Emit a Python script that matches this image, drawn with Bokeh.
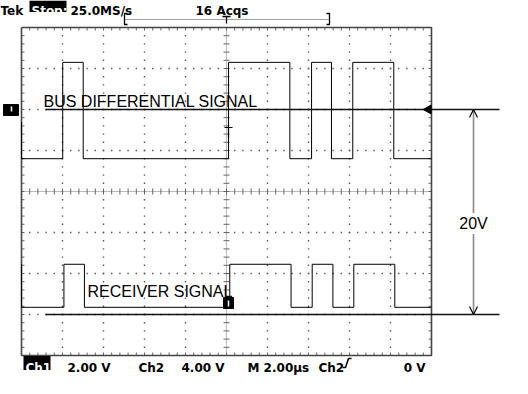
import numpy as np
from bokeh.plotting import figure
from bokeh.models import Range1d, Label
from bokeh.core.properties import value
from bokeh.embed import file_html
from bokeh.resources import INLINE

# ---------------- data ----------------
us_per_div = 2.0          # M 2.00 µs
h_divs = 10
v_divs = 8
ch1_v_per_div = 2.0       # Ch1 2.00 V
ch2_v_per_div = 4.0       # Ch2 4.00 V
ch1_offset_div = 2.0      # Ch1 ground level, divisions above centre
ch2_offset_div = -3.0     # Ch2 ground level, divisions above centre

bus_start_v = -0.6
bus_low_v = -2.4
bus_high_v = 2.3
bus_rise_us = [-7.99, 0.10, 4.15, 6.16]
bus_fall_us = [-6.99, 3.09, 5.12, 8.16]

rx_start_v = 4.9
rx_low_v = 0.7
rx_high_v = 4.9
rx_rise_us = [-7.93, 0.16, 4.18, 6.21]
rx_fall_us = [-6.93, 3.15, 5.19, 8.21]

trace_labels = ["BUS DIFFERENTIAL SIGNAL", "RECEIVER SIGNAL"]
header_texts = ["Tek", "Stop:", "25.0MS/s", "16 Acqs"]
footer_texts = ["Ch1", "2.00 V", "Ch2", "4.00 V", "M 2.00\u00b5s", "Ch2", "0 V"]

# ---------------- geometry helpers (reference pixel -> data) ----------------
PX_T0, PX_PER_US = 226.0, 20.5
PY_D0, PY_PER_DIV = 191.0, 41.0


def X(px):
    return (px - PX_T0) / PX_PER_US


def Y(py):
    return (PY_D0 - py) / PY_PER_DIV


def dx(n):
    return n / PX_PER_US


def dy(n):
    return n / PY_PER_DIV


half_t = us_per_div * h_divs / 2
half_d = v_divs / 2

p = figure(width=512, height=378, x_range=Range1d(X(0), X(512)),
           y_range=Range1d(Y(378), Y(0)), x_axis_type=None, y_axis_type=None,
           toolbar_location=None, output_backend="svg", min_border=0,
           outline_line_color=None, background_fill_color="white",
           border_fill_color="white")
p.grid.visible = False

GRID = "#555555"
# ---------------- graticule dots ----------------
gx, gy = [], []
for k in range(1, h_divs):
    t = -half_t + k * us_per_div
    if abs(t) < 1e-9:
        continue
    for j in range(1, v_divs * 5):
        gx.append(t)
        gy.append(-half_d + j * 0.2)
for k in range(1, v_divs):
    d = -half_d + k
    if abs(d) < 1e-9:
        continue
    for j in range(1, h_divs * 5):
        gx.append(-half_t + j * us_per_div / 5)
        gy.append(d)
p.scatter(gx, gy, marker="square", size=1.4, fill_color=GRID, line_color=None)

# centre cross
p.segment(x0=[-half_t, 0], y0=[0, -half_d], x1=[half_t, 0], y1=[0, half_d],
          line_color="#777777", line_width=1, line_dash="1 1")
tx0, ty0, tx1, ty1 = [], [], [], []
for j in range(1, h_divs * 5):
    t = -half_t + j * us_per_div / 5
    tx0 += [t]; ty0 += [-dy(3)]; tx1 += [t]; ty1 += [dy(3)]
    # top & bottom border ticks
    tx0 += [t, t]; ty0 += [half_d, -half_d]
    tx1 += [t, t]; ty1 += [half_d - dy(3), -half_d + dy(3)]
for j in range(1, v_divs * 5):
    d = -half_d + j * 0.2
    tx0 += [-dx(3)]; ty0 += [d]; tx1 += [dx(3)]; ty1 += [d]
    tx0 += [-half_t, half_t]; ty0 += [d, d]
    tx1 += [-half_t + dx(3), half_t - dx(3)]; ty1 += [d, d]
p.segment(x0=tx0, y0=ty0, x1=tx1, y1=ty1, line_color="#666666", line_width=1)

# border
p.line([-half_t, half_t, half_t, -half_t, -half_t],
       [half_d, half_d, -half_d, -half_d, half_d],
       line_color="#444444", line_width=1.6)


# ---------------- traces ----------------
def step_trace(start_v, low_v, high_v, rises, falls, off, vpd):
    t = [-half_t, -half_t]
    v = [start_v, low_v]
    for r, f in zip(rises, falls):
        t += [r, r, f, f]
        v += [low_v, high_v, high_v, low_v]
    t.append(half_t)
    v.append(low_v)
    return t, [off + vv / vpd for vv in v]


bt, bd = step_trace(bus_start_v, bus_low_v, bus_high_v, bus_rise_us, bus_fall_us,
                    ch1_offset_div, ch1_v_per_div)
rt, rd = step_trace(rx_start_v, rx_low_v, rx_high_v, rx_rise_us, rx_fall_us,
                    ch2_offset_div, ch2_v_per_div)
p.line(bt, bd, line_color="black", line_width=1.0)
p.line(rt, rd, line_color="black", line_width=1.0)

# ---------------- reference lines & dimension ----------------
p.segment(x0=[X(45), X(45)], y0=[ch1_offset_div, ch2_offset_div],
          x1=[X(499), X(499)], y1=[ch1_offset_div, ch2_offset_div],
          line_color="#111111", line_width=1.3)
xa = X(473)
p.segment(x0=[xa], y0=[ch2_offset_div], x1=[xa], y1=[ch1_offset_div],
          line_color="#888888", line_width=1.6)
p.multi_line(xs=[[xa - dx(4), xa, xa + dx(4)], [xa - dx(4), xa, xa + dx(4)]],
             ys=[[ch1_offset_div - dy(8), ch1_offset_div, ch1_offset_div - dy(8)],
                 [ch2_offset_div + dy(8), ch2_offset_div, ch2_offset_div + dy(8)]],
             line_color="black", line_width=1.2)
span_v = (ch1_offset_div - ch2_offset_div) * ch2_v_per_div
p.add_layout(Label(x=xa, y=Y(223),
                   text=f"{span_v:.0f}V", text_align="center", text_baseline="middle",
                   text_font="Liberation Sans", text_font_size="16px",
                   text_color="black",
                   background_fill_color="white", padding=2))

# trace labels
p.text(x=[X(43), X(87)], y=[Y(101), Y(291)], text=trace_labels,
       text_font=value("Liberation Sans"), text_font_size="16px",
       text_baseline="alphabetic", text_align="left", text_color="black")

# trigger level arrow on right
p.scatter([X(428)], [ch1_offset_div], marker="triangle", size=9, angle=np.pi / 2,
          fill_color="black", line_color="black")

# trigger mark on top trace
p.multi_line(xs=[[X(224), X(232)], [X(228), X(228)]],
             ys=[[Y(127), Y(127)], [Y(127), Y(137)]],
             line_color="black", line_width=1.2)
# ch2 marker box
p.quad(left=[X(223)], right=[X(233)], bottom=[Y(308)], top=[Y(297)],
       fill_color="black", line_color="black")
p.segment(x0=[X(228)], y0=[Y(300)], x1=[X(228)], y1=[Y(306)],
          line_color="white", line_width=1.5)
# ch1 ground marker
p.quad(left=[X(3)], right=[X(18)], bottom=[Y(115)], top=[Y(104)],
       fill_color="black", line_color="black")
p.segment(x0=[X(11)], y0=[Y(106)], x1=[X(11)], y1=[Y(111)],
          line_color="white", line_width=1.5)

# ---------------- header ----------------
FONT = value("DejaVu Sans")
p.quad(left=[X(29)], right=[X(66)], bottom=[Y(11.5)], top=[Y(0)],
       fill_color="black", line_color=None)
p.text(x=[X(0), X(31), X(70), X(195)], y=[Y(10)] * 4, text=header_texts,
       text_align="left", text_font=FONT,
       text_font_size="12px", text_font_style="bold",
       text_color=["black", "white", "black", "black"], text_baseline="alphabetic")
# acquisition window bracket
bx0, bx1, byt, byb = X(124), X(329), Y(13), Y(24)
p.multi_line(xs=[[bx0 + dx(3), bx0, bx0, bx0 + dx(3)], [bx1 - dx(3), bx1, bx1, bx1 - dx(3)],
                 [X(222), X(230)], [X(226), X(226)]],
             ys=[[byt, byt, byb, byb], [byt, byt, byb, byb],
                 [Y(16), Y(16)], [Y(16), Y(23)]],
             line_color="black", line_width=1.3)
p.segment(x0=[bx0], y0=[Y(19)], x1=[bx1], y1=[Y(19)], line_color="#444444",
          line_width=1, line_dash="1 1")

# ---------------- footer ----------------
p.quad(left=[X(23)], right=[X(50)], bottom=[Y(369.5)], top=[Y(355.5)],
       fill_color="black", line_color=None)
p.text(x=[X(25), X(67), X(138), X(181), X(247), X(318), X(425)], y=[Y(367)] * 7,
       text=footer_texts,
       text_align=["left"] * 6 + ["right"], text_font=FONT, text_font_size="12px",
       text_font_style="bold", text_color=["white"] + ["black"] * 6,
       text_baseline="alphabetic")
# rising-edge trigger symbol
p.line([X(342), X(345), X(348), X(351)], [Y(367), Y(367), Y(358), Y(358)],
       line_color="black", line_width=1.5)

open("out.html", "w").write(file_html(p, INLINE))
